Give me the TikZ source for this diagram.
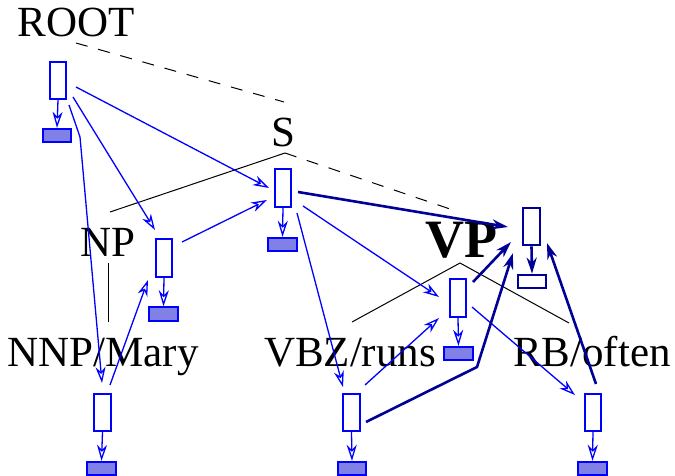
\documentclass[tikz,border=0pt]{standalone}
\usepackage{fontspec}
\setmainfont{Liberation Serif}
\usetikzlibrary{arrows.meta,calc}
\definecolor{lblue}{RGB}{0,0,255}
\definecolor{fillb}{RGB}{128,128,230}
\definecolor{navyb}{RGB}{0,0,150}
\begin{document}
\begin{tikzpicture}[x=1pt,y=-1pt,
  lbl/.style={anchor=base,inner sep=0,font=\fontsize{43}{43}\selectfont},
  cell/.style={draw=lblue,line width=1.8pt,fill=white,minimum width=16.5pt,minimum height=37.5pt,inner sep=0},
  emb/.style={draw=lblue,line width=1.8pt,fill=fillb,minimum width=28.5pt,minimum height=13.5pt,inner sep=0},
  navycell/.style={draw=navyb,line width=2.6pt,fill=white,minimum width=17pt,minimum height=37pt,inner sep=0},
  navyemb/.style={draw=navyb,line width=2.6pt,fill=white,minimum width=28pt,minimum height=13pt,inner sep=0},
  warr/.style={draw=lblue,line width=1.3pt,-{Stealth[open,length=16pt,width=10pt,inset=5pt]}},
  harr/.style={draw=navyb,line width=2.6pt,-{Stealth[open,length=16pt,width=10pt,inset=5pt]}},
  tree/.style={draw=black,line width=1pt},
  treedash/.style={draw=black,line width=1pt,dash pattern=on 12pt off 11pt}]
\useasboundingbox (0,0) rectangle (675,476);

% labels
\node[lbl] (roott) at (76,37) {ROOT};
\node[lbl] (st) at (283,147) {S};
\node[lbl] (npt) at (108,256) {NP};
\node[lbl] (nnpt) at (103,366) {NNP/Mary};
\node[lbl] (vbzt) at (350,366) {VBZ/runs};
\node[lbl] (rbt) at (592,366) {RB/often};
\node[lbl,font=\bfseries\fontsize{54}{54}\selectfont] (vpt) at (461,257) {VP};

% tree lines
\draw[treedash] ($(roott.base)+(0,6)$) -- ($(st.base)+(1,-45)$);
\draw[tree] ($(st.base)+(2,6)$) -- ($(npt.base)+(2,-44)$);
\draw[treedash] ($(st.base)+(2,6)$) -- ($(vpt.base)+(-11,-48)$);
\draw[tree] ($(npt.base)+(0,7)$) -- ($(nnpt.base)+(5,-44)$);
\draw[tree] ($(vpt.base)+(-1,6)$) -- ($(vbzt.base)+(2,-44)$);
\draw[tree] ($(vpt.base)+(-1,6)$) -- ($(rbt.base)+(-23,-43)$);

% boxes
\node[cell] (rootbox) at (58,80.5) {};
\node[emb] (rootemb) at (57,135.5) {};
\node[cell] (sbox) at (283,188) {};
\node[emb] (semb) at (282.5,244.5) {};
\node[cell] (npbox) at (164,258) {};
\node[emb] (npemb) at (163.5,314) {};
\node[cell] (nnpbox) at (102.5,412.5) {};
\node[emb] (nnpemb) at (101.5,468.5) {};
\node[cell] (vbzbox) at (351.5,412.5) {};
\node[emb] (vbzemb) at (352,468.5) {};
\node[navycell] (vpbox) at (531.5,226.5) {};
\node[navyemb] (vpemb) at (532,281.5) {};
\node[cell] (vpubox) at (458,298) {};
\node[emb] (vpuemb) at (458.5,353.5) {};
\node[cell] (rbbox) at (593,412.5) {};
\node[emb] (rbemb) at (592.5,468.5) {};

\coordinate (bendA) at ($(rootbox)+(22,56.5)$);
\coordinate (bendB) at ($(vpubox)+(19,69)$);

% box to embedding arrows
\draw[warr] (rootbox.south) -- (rootemb.north);
\draw[warr] (sbox.south) -- (semb.north);
\draw[warr] (npbox.south) -- (npemb.north);
\draw[warr] (nnpbox.south) -- (nnpemb.north);
\draw[warr] (vbzbox.south) -- (vbzemb.north);
\draw[warr] (vpubox.south) -- (vpuemb.north);
\draw[warr] (rbbox.south) -- (rbemb.north);
\draw[harr] (vpbox.south) -- (vpemb.north);

% thin blue arrows
\draw[warr] ($(rootbox)+(18,6.5)$) -- ($(sbox)+(-14,0)$);
\draw[warr] ($(rootbox)+(15,16.5)$) -- ($(npbox)+(-9,-28)$);
\draw[warr] ($(rootbox)+(11,24.5)$) -- (bendA) -- ($(nnpbox)+(-0.5,-29.5)$);
\draw[warr] ($(nnpbox)+(7.5,-27.5)$) -- ($(npbox)+(-16,22)$);
\draw[warr] ($(npbox)+(18,-16)$) -- ($(sbox)+(-16,12)$);
\draw[warr] ($(sbox)+(14,25)$) -- ($(vbzbox)+(-8.5,-25.5)$);
\draw[warr] ($(sbox)+(20,18)$) -- ($(vpubox)+(-19,-1)$);
\draw[warr] ($(vbzbox)+(13.5,-27.5)$) -- ($(vpubox)+(-19,20)$);
\draw[warr] ($(vpubox)+(14,9)$) -- ($(rbbox)+(-18,-17.5)$);

% thick navy arrows
\draw[harr] ($(sbox)+(15,4)$) -- ($(vpbox)+(-23.5,0.5)$);
\draw[harr] ($(vpubox)+(15,-16)$) -- ($(vpbox)+(-20.5,15.5)$);
\draw[harr] ($(vbzbox)+(14.5,9.5)$) -- (bendB) -- ($(vpbox)+(-18.5,26.5)$);
\draw[harr] ($(rbbox)+(3,-28.5)$) -- ($(vpbox)+(15.5,16.5)$);
\end{tikzpicture}
\end{document}
